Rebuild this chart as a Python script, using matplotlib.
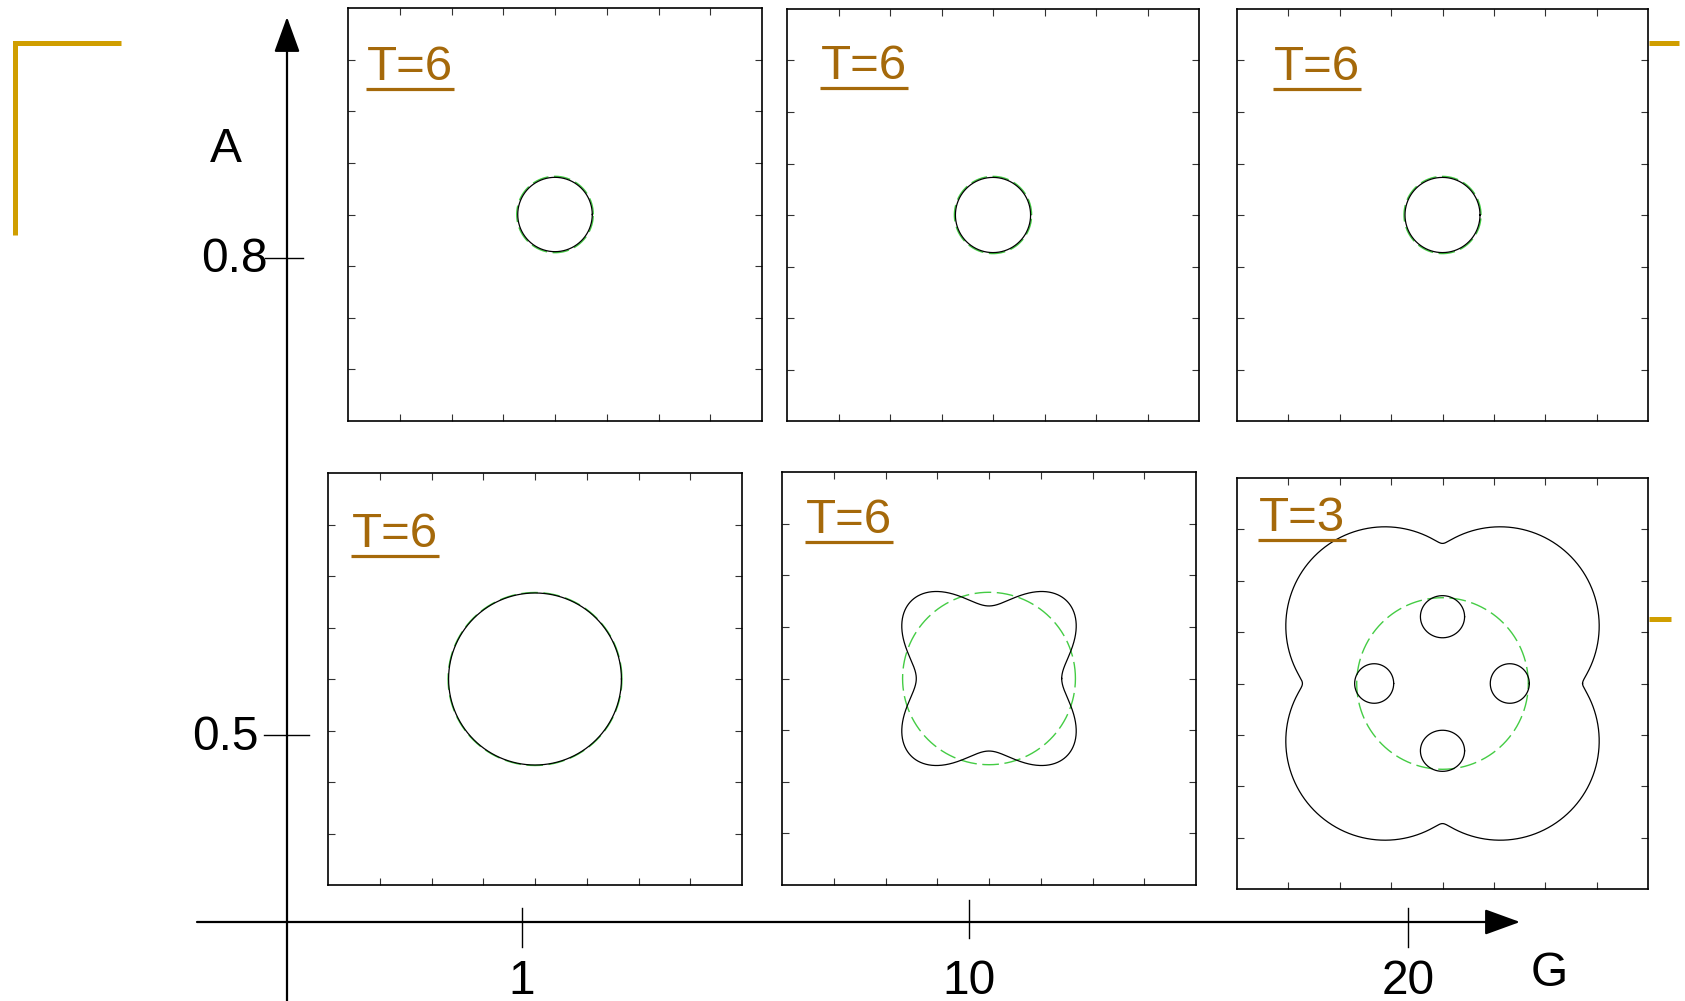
import matplotlib.pyplot as plt
import numpy as np

plt.rcParams['font.family'] = ['Liberation Sans', 'DejaVu Sans']

# panel labels (time step shown in each snapshot)
panel_labels = ["T=6", "T=6", "T=6", "T=6", "T=6", "T=3"]

# interface radii, in tick divisions (each panel spans -4..4)
circle_radius = [0.72, 0.73, 0.73, 1.67]          # black interface, first four panels
ref_radius = [0.74, 0.75, 0.75, 1.68, 1.67, 1.67]  # green dashed reference circle

# panel 5: four-fold perturbed interface, r = r0 + a4*cos(4*theta)
wavy_r0 = 1.765
wavy_a4 = -0.36

# panel 6: outer interface made of four lobes plus four small inner drops
lobe_cx = [1.12, -1.12, -1.12, 1.12]
lobe_cy = [1.12, 1.12, -1.12, -1.12]
lobe_r = 1.93
drop_cx = [0.0, -1.33, 1.31, 0.0]
drop_cy = [1.30, 0.0, 0.0, -1.31]
drop_rx = [0.43, 0.38, 0.38, 0.43]
drop_ry = [0.41, 0.385, 0.385, 0.40]

# schematic axes
g_labels = ["1", "10", "20"]
a_labels = ["0.8", "0.5"]

# ---- layout (pixels of the 1685x1001 picture) ----
W, H = 1685, 1001
panel_boxes = [(348, 8, 762, 421), (787, 9, 1199, 421), (1237, 9, 1648, 421),
               (328, 473, 742, 885), (782, 472, 1196, 885), (1237, 478, 1648, 889)]
label_pos = [(367, 80), (821, 79), (1274, 80), (352, 547), (806, 533), (1259, 531)]
g_tick_x = [522, 969, 1408]
g_tick_y = [(908, 947), (900, 938), (908, 947)]
a_tick_y = [258, 735]
a_tick_x = [(265, 303), (264, 309)]
a_label_x = [268, 259]

label_color = '#A5690A'
gold = '#D09E00'
green = '#44cc44'

fig = plt.figure(figsize=(W / 100, H / 100), dpi=100)
fig.patch.set_facecolor('white')

# background axes in pixel units for the schematic G/A axes and decorations
bg = fig.add_axes([0, 0, 1, 1])
bg.set_xlim(0, W)
bg.set_ylim(H, 0)
bg.axis('off')

# gold slide decorations
bg.plot([15, 15, 121], [235, 43, 43], color=gold, lw=3.6, solid_capstyle='butt', solid_joinstyle='miter')
bg.plot([1649, 1679], [43, 43], color=gold, lw=3.6, solid_capstyle='butt')
bg.plot([1649, 1671], [619, 619], color=gold, lw=3.6, solid_capstyle='butt')

# A axis (vertical) and G axis (horizontal) with arrow heads
arrow = dict(arrowstyle='-|>,head_length=1.1,head_width=0.4', color='black', lw=1.6,
             mutation_scale=20, shrinkA=0, shrinkB=0)
bg.annotate('', xy=(287, 17), xytext=(287, H), arrowprops=arrow)
bg.annotate('', xy=(1520, 922), xytext=(197, 922), arrowprops=arrow)

for x, (ya, yb), lab in zip(g_tick_x, g_tick_y, g_labels):
    bg.plot([x, x], [ya, yb], color='black', lw=1.0)
    bg.text(x, 981, lab, fontsize=34.5, ha='center', va='center')
bg.text(1549, 974, "G", fontsize=34.5, ha='center', va='center')

for y, (xa, xb), xl, lab in zip(a_tick_y, a_tick_x, a_label_x, a_labels):
    bg.plot([xa, xb], [y, y], color='black', lw=1.0)
    bg.text(xl, y + 2, lab, fontsize=34.5, ha='right', va='center')
bg.text(226, 150, "A", fontsize=34.5, ha='center', va='center')

# ---- snapshot panels ----
theta = np.linspace(0, 2 * np.pi, 1441)
ux, uy = np.cos(theta), np.sin(theta)
texts = []
for i, (x0, y0, x1, y1) in enumerate(panel_boxes):
    ax = fig.add_axes([x0 / W, 1 - y1 / H, (x1 - x0) / W, (y1 - y0) / H])
    ax.set_facecolor('none')
    ax.set_xlim(-4, 4)
    ax.set_ylim(-4, 4)
    ax.set_xticks(np.arange(-3, 4))
    ax.set_yticks(np.arange(-3, 4))
    ax.tick_params(direction='in', length=5, width=0.8, color='#333333',
                   top=True, right=True, labelbottom=False, labelleft=False)
    for s in ax.spines.values():
        s.set_linewidth(1.2)

    # green dashed reference circle
    rr = ref_radius[i]
    ax.plot(rr * ux, rr * uy, color=green, lw=1.0, dashes=(12, 4))

    # black interface
    if i < 4:
        r = circle_radius[i]
        ax.plot(r * ux, r * uy, color='black', lw=0.9)
    elif i == 4:
        r = wavy_r0 + wavy_a4 * np.cos(4 * theta)
        ax.plot(r * ux, r * uy, color='black', lw=0.9)
    else:
        hits = []
        for cx, cy in zip(lobe_cx, lobe_cy):
            d = ux * cx + uy * cy
            hits.append(d + np.sqrt(d ** 2 - (cx ** 2 + cy ** 2) + lobe_r ** 2))
        k = 0.05
        r = k * np.log(np.exp(np.array(hits) / k).sum(axis=0))
        ax.plot(r * ux, r * uy, color='black', lw=0.9)
        for cx, cy, rx, ry in zip(drop_cx, drop_cy, drop_rx, drop_ry):
            ax.plot(cx + rx * ux, cy + ry * uy, color='black', lw=0.9)

    lx, ly = label_pos[i]
    t = ax.text((lx - x0) / (x1 - x0), (y1 - ly) / (y1 - y0), panel_labels[i],
                transform=ax.transAxes, fontsize=35.5, color=label_color,
                ha='left', va='baseline')
    texts.append((ax, t, ly))

# underline the panel labels
fig.canvas.draw()
renderer = fig.canvas.get_renderer()
for ax, t, ly in texts:
    bb = t.get_window_extent(renderer)
    inv = ax.transAxes.inverted()
    p0 = inv.transform((bb.x0 - 1, H - ly - 9))
    p1 = inv.transform((bb.x1 + 1, H - ly - 9))
    ax.plot([p0[0], p1[0]], [p0[1], p1[1]], color=label_color, lw=2.3,
            transform=ax.transAxes, clip_on=False, solid_capstyle='butt')

plt.savefig("out.png", dpi=100, facecolor='white')
